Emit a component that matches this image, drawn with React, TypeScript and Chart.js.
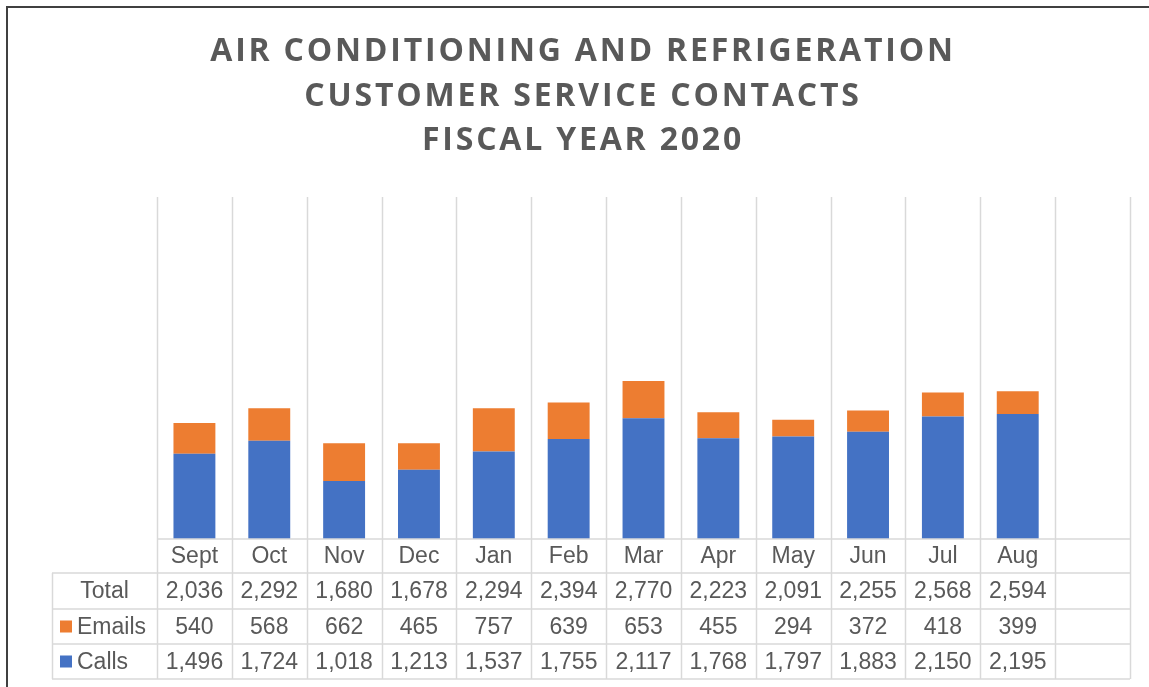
import React, { useEffect, useRef } from "react";
import { Chart, registerables } from "chart.js";

Chart.register(...registerables);

const months = ["Sept", "Oct", "Nov", "Dec", "Jan", "Feb", "Mar", "Apr", "May", "Jun", "Jul", "Aug", ""];
const calls = [1496, 1724, 1018, 1213, 1537, 1755, 2117, 1768, 1797, 1883, 2150, 2195, null];
const emails = [540, 568, 662, 465, 757, 639, 653, 455, 294, 372, 418, 399, null];
const totals = [2036, 2292, 1680, 1678, 2294, 2394, 2770, 2223, 2091, 2255, 2568, 2594, null];
const titleLines = [
  "AIR CONDITIONING AND REFRIGERATION",
  "CUSTOMER SERVICE CONTACTS",
  "FISCAL YEAR 2020",
];

const BLUE = "#4472C4";
const ORANGE = "#ED7D31";
const TEXT = "#595959";
const GRID = "#D9D9D9";

const fmt = (v: number | null) => (v == null ? "" : v.toLocaleString("en-US"));

const tablePlugin = {
  id: "excelTable",
  afterDraw(chart: any) {
    const ctx = chart.ctx as CanvasRenderingContext2D;
    const area = chart.chartArea;
    const xs = chart.scales.x;
    const n = months.length;
    const half = (xs.getPixelForValue(1) - xs.getPixelForValue(0)) / 2;
    const rowY = [area.bottom, 573, 609, 644, 679];
    const leftCol = 52;
    ctx.save();
    // frame
    ctx.strokeStyle = "#404040";
    ctx.lineWidth = 2;
    ctx.beginPath();
    ctx.moveTo(7, 700);
    ctx.lineTo(7, 7);
    ctx.lineTo(1160, 7);
    ctx.stroke();

    // title
    ctx.fillStyle = TEXT;
    ctx.font = "bold 32px 'Open Sans'";
    (ctx as any).letterSpacing = "2.8px";
    ctx.textAlign = "center";
    ctx.textBaseline = "middle";
    const tY = [52, 97, 141];
    titleLines.forEach((t, i) => ctx.fillText(t, 583, tY[i]));
    (ctx as any).letterSpacing = "0px";

    // grid
    ctx.strokeStyle = GRID;
    ctx.lineWidth = 1.5;
    ctx.beginPath();
    for (let i = 0; i <= n; i++) {
      const x = Math.round(xs.getPixelForValue(0) - half + i * half * 2) + 0.5;
      ctx.moveTo(x, area.top);
      ctx.lineTo(x, rowY[4]);
    }
    ctx.moveTo(area.left, rowY[0]);
    ctx.lineTo(area.right, rowY[0]);
    for (let r = 1; r < rowY.length; r++) {
      ctx.moveTo(leftCol, rowY[r]);
      ctx.lineTo(area.right, rowY[r]);
    }
    ctx.moveTo(leftCol + 0.5, rowY[1]);
    ctx.lineTo(leftCol + 0.5, rowY[4]);
    ctx.stroke();

    // text
    ctx.fillStyle = TEXT;
    ctx.font = "23px 'Liberation Sans', Arial, sans-serif";
    ctx.textAlign = "center";
    ctx.textBaseline = "middle";
    const rows: (number | null)[][] = [totals, emails, calls];
    for (let i = 0; i < n; i++) {
      const x = xs.getPixelForValue(i);
      ctx.fillText(months[i], x, (rowY[0] + rowY[1]) / 2 + 1);
      rows.forEach((arr, r) => {
        ctx.fillText(fmt(arr[i]), x, (rowY[r + 1] + rowY[r + 2]) / 2 + 1);
      });
    }
    // row headers
    ctx.fillText("Total", (leftCol + area.left) / 2, (rowY[1] + rowY[2]) / 2 + 1);
    ctx.textAlign = "left";
    ctx.fillStyle = ORANGE;
    ctx.fillRect(60, (rowY[2] + rowY[3]) / 2 - 6, 12, 12);
    ctx.fillStyle = BLUE;
    ctx.fillRect(60, (rowY[3] + rowY[4]) / 2 - 6, 12, 12);
    ctx.fillStyle = TEXT;
    ctx.fillText("Emails", 77, (rowY[2] + rowY[3]) / 2 + 1);
    ctx.fillText("Calls", 77, (rowY[3] + rowY[4]) / 2 + 1);
    ctx.restore();
  },
};

export default function App() {
  const ref = useRef<HTMLCanvasElement | null>(null);
  useEffect(() => {
    if (!ref.current) return;
    const chart = new Chart(ref.current, {
      type: "bar",
      data: {
        labels: months,
        datasets: [
          { label: "Calls", data: calls, backgroundColor: BLUE, borderWidth: 0 },
          { label: "Emails", data: emails, backgroundColor: ORANGE, borderWidth: 0 },
        ],
      },
      options: {
        animation: false,
        responsive: false,
        maintainAspectRatio: false,
        layout: { padding: { left: 157, right: 19, top: 197, bottom: 687 - 539 } },
        plugins: { legend: { display: false }, tooltip: { enabled: false }, title: { display: false } },
        datasets: { bar: { categoryPercentage: 1, barPercentage: 0.56 } },
        scales: {
          x: { stacked: true, display: false, offset: true },
          y: { stacked: true, display: false, min: 0, max: 6000 },
        },
      },
      plugins: [tablePlugin],
    });
    return () => chart.destroy();
  }, []);
  return (
    <div style={{ position: "fixed", left: 0, top: 0, width: 1149, height: 687, background: "#fff" }}>
      <canvas ref={ref} width={1149} height={687} style={{ width: 1149, height: 687, display: "block" }} />
    </div>
  );
}
